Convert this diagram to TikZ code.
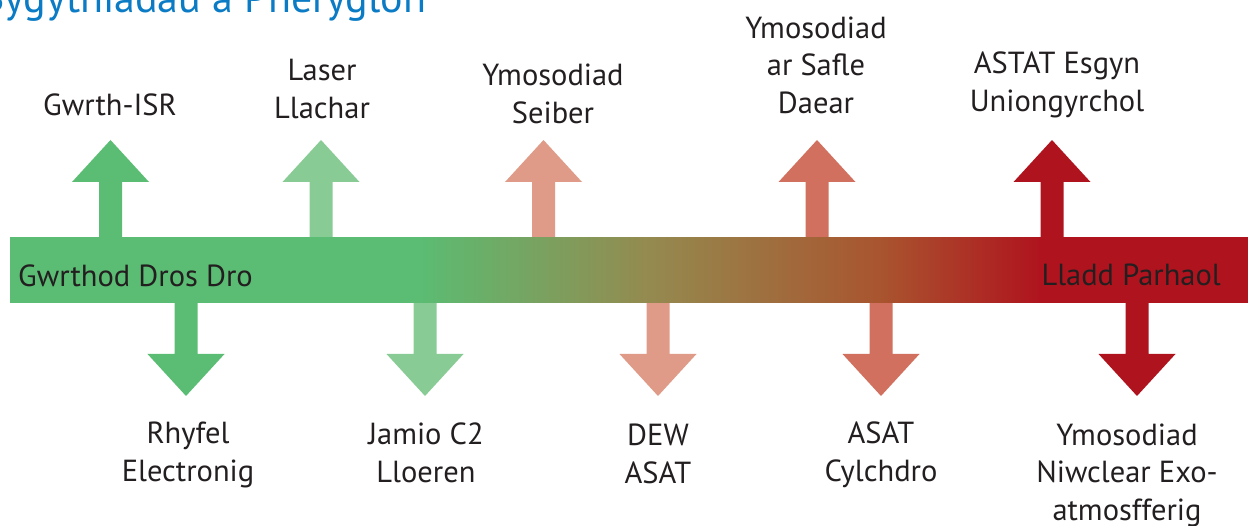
\documentclass[tikz,border=0pt]{standalone}
\usepackage{fontspec}
\setmainfont{PT Sans}
\definecolor{gwgreen}{HTML}{5ABD73}
\definecolor{lightgreen}{HTML}{88CB94}
\definecolor{salmon}{HTML}{DF9B87}
\definecolor{coral}{HTML}{D1705E}
\definecolor{darkred}{HTML}{AF141E}
\definecolor{olive}{HTML}{948A4F}
\definecolor{rust}{HTML}{A9552F}
\definecolor{titleblue}{HTML}{0A7BC4}
\definecolor{textdark}{HTML}{231F20}
% bar colours, 25bp..75bp is the bar itself
\pgfdeclarehorizontalshading{threatbar}{100bp}{color(0bp)=(gwgreen); color(25bp)=(gwgreen);
    color(41.4bp)=(gwgreen); color(50.8bp)=(olive); color(60.1bp)=(rust);
    color(66.6bp)=(darkred); color(75bp)=(darkred); color(100bp)=(darkred)}
\tikzset{
    lbl/.style={text=textdark, align=center, inner sep=0pt,
        font=\fontsize{30.5}{37.5}\selectfont},
    uparrow/.pic={\path[pic actions] (-11.5,10) -- (-11.5,-56) -- (-38.5,-56)
        -- (0,-98) -- (38.5,-56) -- (11.5,-56) -- (11.5,10) -- cycle;},
    downarrow/.pic={\path[pic actions] (-11.5,-10) -- (-11.5,51) -- (-38.5,51)
        -- (0,93) -- (38.5,51) -- (11.5,51) -- (11.5,-10) -- cycle;}
}
\begin{document}
\begin{tikzpicture}[x=1pt,y=-1pt]
            \useasboundingbox (0,0) rectangle (1248,526);
            % Coordinates
            \coordinate (U1) at (110.5,238);
            \coordinate (U2) at (321,238);
            \coordinate (U3) at (543.5,238);
            \coordinate (U4) at (817,238);
            \coordinate (U5) at (1052,238);
            \coordinate (D1) at (186,303);
            \coordinate (D2) at (425,303);
            \coordinate (D3) at (658,303);
            \coordinate (D4) at (881,303);
            \coordinate (D5) at (1137,303);
            % Arrows
            \pic[fill=gwgreen] at (U1) {uparrow};
            \pic[fill=lightgreen] at (U2) {uparrow};
            \pic[fill=salmon] at (U3) {uparrow};
            \pic[fill=coral] at (U4) {uparrow};
            \pic[fill=darkred] at (U5) {uparrow};
            \pic[fill=gwgreen] at (D1) {downarrow};
            \pic[fill=lightgreen] at (D2) {downarrow};
            \pic[fill=salmon] at (D3) {downarrow};
            \pic[fill=coral] at (D4) {downarrow};
            \pic[fill=darkred] at (D5) {downarrow};
            % Bar
            \shade[shading=threatbar] (10,238) rectangle (1248,303);
            % Labels
            \node[anchor=base west, text=titleblue, inner sep=0pt,
                font=\fontsize{42}{46}\selectfont] (title) at (-20,12.5) {Bygythiadau a Pheryglon};
            \node[lbl, anchor=base west] (temp) at (18,287) {Gwrthod Dros Dro};
            \node[lbl, anchor=base east] (perm) at (1221,286) {Lladd Parhaol};
            \node[lbl] (isr) at (110,105) {Gwrth-ISR};
            \node[lbl] (laser) at (322,89) {Laser\\Llachar};
            \node[lbl] (cyber) at (553,94) {Ymosodiad\\Seiber};
            \node[lbl] (ground) at (816,65) {Ymosodiad\\ar Safle\\Daear};
            \node[lbl] (astat) at (1057,85) {ASTAT Esgyn\\Uniongyrchol};
            \node[lbl] (ew) at (188,455) {Rhyfel\\Electronig};
            \node[lbl] (jam) at (426,453) {Jamio C2\\Lloeren};
            \node[lbl] (dew) at (658,454) {DEW\\ASAT};
            \node[lbl] (orbit) at (881,455) {ASAT\\Cylchdro};
            \node[lbl] (nuke) at (1127,475) {Ymosodiad\\Niwclear Exo-\\atmosfferig};
        \end{tikzpicture}
\end{document}
